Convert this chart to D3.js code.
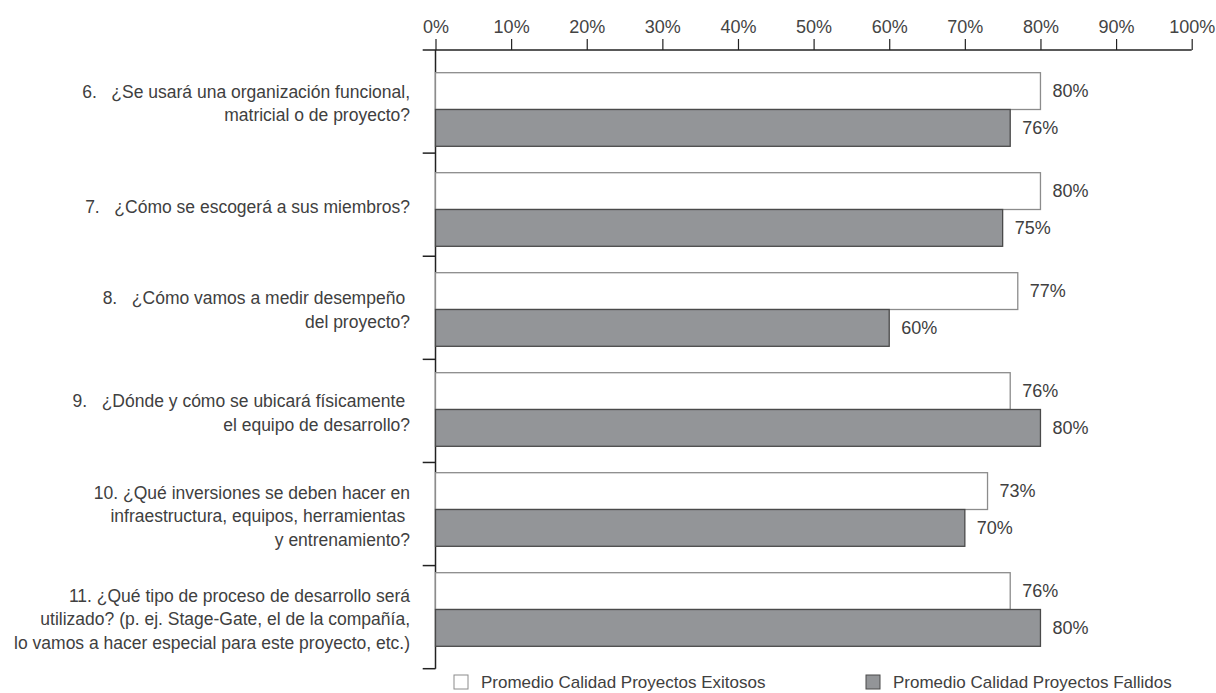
<!DOCTYPE html>
<html>
<head>
<meta charset="utf-8">
<script src="https://cdn.jsdelivr.net/npm/d3@7"></script>
<style>
  body { margin: 0; background: #fff; }
  text { font-family: "Liberation Sans", Arial, sans-serif; fill: #404040; }
</style>
</head>
<body>
<svg id="chart"></svg>
<script>
// question labels, one array of lines per question
const questions = [
  ["6.   ¿Se usará una organización funcional,", "matricial o de proyecto?"],
  ["7.   ¿Cómo se escogerá a sus miembros?"],
  ["8.   ¿Cómo vamos a medir desempeño ", "del proyecto?"],
  ["9.   ¿Dónde y cómo se ubicará físicamente ", "el equipo de desarrollo?"],
  ["10. ¿Qué inversiones se deben hacer en", "infraestructura, equipos, herramientas ", "y entrenamiento?"],
  ["11. ¿Qué tipo de proceso de desarrollo será", "utilizado? (p. ej. Stage-Gate, el de la compañía,", "lo vamos a hacer especial para este proyecto, etc.)"]
]
const ids = ["6", "7", "8", "9", "10", "11"]
const series = ["Promedio Calidad Proyectos Exitosos", "Promedio Calidad Proyectos Fallidos"]
const exitosos = [80, 80, 77, 76, 73, 76]
const fallidos = [76, 75, 60, 80, 70, 80]
const ticks = [0, 10, 20, 30, 40, 50, 60, 70, 80, 90, 100]

const W = 1216, H = 693
const svg = d3.select("#chart").attr("width", W).attr("height", H)

const x = d3.scaleLinear().domain([0, 100]).range([435.5, 1191.7])
// axis bands (separator ticks) and bar bands are spaced a bit differently
const yAxisBand = d3.scaleBand().domain(ids).range([50, 668.7])
const yBar = d3.scaleBand().domain(ids).range([72.7, 672.7])
const ySub = d3.scaleBand().domain(series).range([0, 73.6])

const colors = d3.scaleOrdinal().domain(series).range(["#ffffff", "#939598"])
const strokes = d3.scaleOrdinal().domain(series).range(["#8c8c8c", "#4a4a4a"])

const rows = ids.map((id, i) => ({
  id: id,
  lines: questions[i],
  vals: [
    { s: series[0], v: exitosos[i] },
    { s: series[1], v: fallidos[i] }
  ]
}))

// top axis
const xAxis = d3.axisTop(x).tickValues(ticks).tickFormat(d => d + "%").tickSize(11).tickPadding(6)
const gx = svg.append("g").attr("transform", "translate(0,50)").call(xAxis)
gx.select(".domain").remove()
gx.selectAll(".tick line").attr("stroke", "#222").attr("stroke-width", 1.2)
gx.selectAll(".tick text").style("font-size", "18px").style("fill", "#444")
gx.append("line")
  .attr("x1", 422.7).attr("x2", x(100))
  .attr("stroke", "#222").attr("stroke-width", 1.5)

// left axis with separator ticks
svg.append("line")
  .attr("x1", x(0)).attr("x2", x(0))
  .attr("y1", 50).attr("y2", yAxisBand.range()[1])
  .attr("stroke", "#222").attr("stroke-width", 1.5)
svg.selectAll(".sep")
  .data(ids)
  .join("line")
  .attr("class", "sep")
  .attr("x1", 422.7).attr("x2", x(0))
  .attr("y1", d => yAxisBand(d) + yAxisBand.bandwidth())
  .attr("y2", d => yAxisBand(d) + yAxisBand.bandwidth())
  .attr("stroke", "#222").attr("stroke-width", 1.5)

// bars
const grp = svg.selectAll(".grp")
  .data(rows)
  .join("g")
  .attr("class", "grp")
  .attr("transform", d => `translate(0,${yBar(d.id)})`)

grp.selectAll("rect")
  .data(d => d.vals)
  .join("rect")
  .attr("x", x(0))
  .attr("y", d => ySub(d.s))
  .attr("width", d => x(d.v) - x(0))
  .attr("height", ySub.bandwidth())
  .attr("fill", d => colors(d.s))
  .attr("stroke", d => strokes(d.s))
  .attr("stroke-width", 1.3)

grp.selectAll(".val")
  .data(d => d.vals)
  .join("text")
  .attr("class", "val")
  .attr("x", d => x(d.v) + 12)
  .attr("y", d => ySub(d.s) + ySub.bandwidth() / 2)
  .attr("dy", "0.35em")
  .style("font-size", "18px")
  .text(d => d.v + "%")

// question labels, right aligned, centred on the axis band
const lineH = 23.5
svg.selectAll(".q")
  .data(rows)
  .join("text")
  .attr("class", "q")
  .attr("text-anchor", "end")
  .style("font-size", "17.5px")
  .style("white-space", "pre")
  .each(function(d) {
    const cy = yAxisBand(d.id) + yAxisBand.bandwidth() / 2 + 2
    const y0 = cy - (d.lines.length - 1) * lineH / 2
    d3.select(this).selectAll("tspan")
      .data(d.lines)
      .join("tspan")
      .attr("x", 410)
      .attr("y", (l, i) => y0 + i * lineH)
      .attr("dy", "0.35em")
      .text(l => l)
  })

// legend
const legX = [454, 866]
const leg = svg.selectAll(".leg")
  .data(series)
  .join("g")
  .attr("class", "leg")
  .attr("transform", (d, i) => `translate(${legX[i]},675)`)
leg.append("rect")
  .attr("width", 14).attr("height", 14)
  .attr("fill", d => colors(d))
  .attr("stroke", d => strokes(d))
leg.append("text")
  .attr("x", 27).attr("y", 7).attr("dy", "0.35em")
  .style("font-size", "17px")
  .text(d => d)
</script>
</body>
</html>
